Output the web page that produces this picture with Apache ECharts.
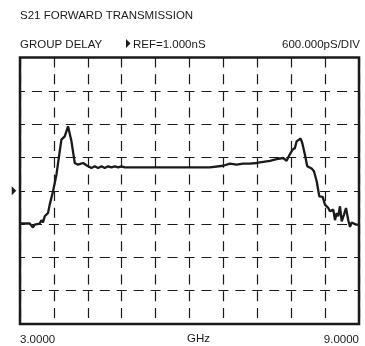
<!DOCTYPE html>
<html>
<head>
<meta charset="utf-8">
<script src="https://cdn.jsdelivr.net/npm/echarts@6/dist/echarts.min.js"></script>
<style>html,body{margin:0;padding:0;background:#fff}#c{width:365px;height:346px}</style>
</head>
<body>
<div id="c"></div>
<script>
// Frequency (GHz) and group delay (ns)
var freqGHz = [3.000,3.172,3.202,3.230,3.260,3.349,3.379,3.407,3.438,3.468,3.496,3.526,3.585,3.645,3.703,3.733,3.792,3.850,3.911,3.969,4.027,4.116,4.176,4.265,4.323,4.382,4.442,4.500,4.559,4.619,4.678,4.736,4.796,4.855,5.298,5.829,6.360,6.596,6.715,6.833,6.950,7.069,7.188,7.305,7.423,7.542,7.659,7.719,7.778,7.826,7.866,7.896,7.967,7.996,8.043,8.084,8.162,8.203,8.251,8.297,8.357,8.398,8.456,8.486,8.545,8.575,8.605,8.633,8.663,8.694,8.734,8.770,8.810,8.841,8.871,8.947,9.000];
var delayNs = [0.41,0.41,0.44,0.34,0.39,0.41,0.47,0.43,0.54,0.57,0.60,0.75,0.99,1.29,1.71,1.92,1.98,2.16,1.89,1.50,1.47,1.50,1.46,1.41,1.44,1.41,1.44,1.41,1.44,1.42,1.44,1.42,1.44,1.42,1.42,1.42,1.42,1.45,1.49,1.47,1.49,1.49,1.50,1.52,1.54,1.57,1.59,1.54,1.66,1.74,1.77,1.89,1.94,1.86,1.65,1.44,1.40,1.35,1.17,0.90,0.89,0.75,0.69,0.63,0.66,0.47,0.60,0.54,0.72,0.45,0.57,0.69,0.47,0.35,0.43,0.39,0.39];
var refNs = 1.0;          // REF=1.000nS
var psPerDiv = 600;       // 600.000pS/DIV
var startMHz = 3000, stopMHz = 9000;
var titleText = 'S21 FORWARD TRANSMISSION';
var measText = 'GROUP DELAY';
var refText = 'REF=1.000nS';
var scaleText = '600.000pS/DIV';
var startLabel = '3.0000', stopLabel = '9.0000', unitLabel = 'GHz';

var data = freqGHz.map(function (f, i) {
  return [f * 1000, (delayNs[i] - refNs) * 1000];
});

var ink = '#1a1a1a';
var font = '"Liberation Sans", Arial, sans-serif';
var chart = echarts.init(document.getElementById('c'), null, {renderer: 'canvas'});
chart.setOption({
  animation: false,
  backgroundColor: '#fff',
  grid: {left: 20, right: 6, top: 57.5, bottom: 21.5, show: true, borderColor: ink, borderWidth: 2.5, backgroundColor: 'transparent'},
  xAxis: {
    type: 'value', min: startMHz, max: stopMHz, interval: psPerDiv,
    axisLine: {show: false}, axisTick: {show: false},
    splitLine: {show: true, lineStyle: {color: ink, width: 1.2, type: [10, 6.7]}},
    axisLabel: {
      show: true, interval: 0, margin: 10, color: ink, fontFamily: font, fontSize: 11.5,
      alignMinLabel: 'left', alignMaxLabel: 'right',
      formatter: function (v) { return v === startMHz ? startLabel : (v === stopMHz ? stopLabel : ''); }
    }
  },
  yAxis: {
    type: 'value', min: -4 * psPerDiv, max: 4 * psPerDiv, interval: psPerDiv,
    axisLine: {show: false}, axisTick: {show: false}, axisLabel: {show: false},
    splitLine: {show: true, lineStyle: {color: ink, width: 1.2, type: [10, 6.95], dashOffset: 5}}
  },
  graphic: [
    {type: 'text', left: 20, top: 9.5, style: {text: titleText, font: '11.5px ' + font, fill: ink}},
    {type: 'text', left: 20, top: 38.5, style: {text: measText, font: '11.5px ' + font, fill: ink}},
    {type: 'polygon', shape: {points: [[126, 39], [130.5, 43.5], [126, 48]]}, style: {fill: ink}},
    {type: 'text', left: 133, top: 38.5, style: {text: refText, font: '11.5px ' + font, fill: ink}},
    {type: 'text', right: 5, top: 38.5, style: {text: scaleText, font: '11.5px ' + font, fill: ink}},
    {type: 'text', left: 187, top: 333, style: {text: unitLabel, font: '11.5px ' + font, fill: ink}}
  ],
  series: [{
    type: 'line', data: data, showSymbol: false, symbol: 'none',
    lineStyle: {color: ink, width: 2.3}, clip: true,
    markPoint: {
      symbol: 'path://M0,0 L4.5,4.5 L0,9 Z', symbolSize: [4.5, 9], symbolOffset: [-6, 0],
      itemStyle: {color: ink}, label: {show: false},
      data: [{coord: [startMHz, 0]}]
    }
  }]
});
</script>
</body>
</html>
